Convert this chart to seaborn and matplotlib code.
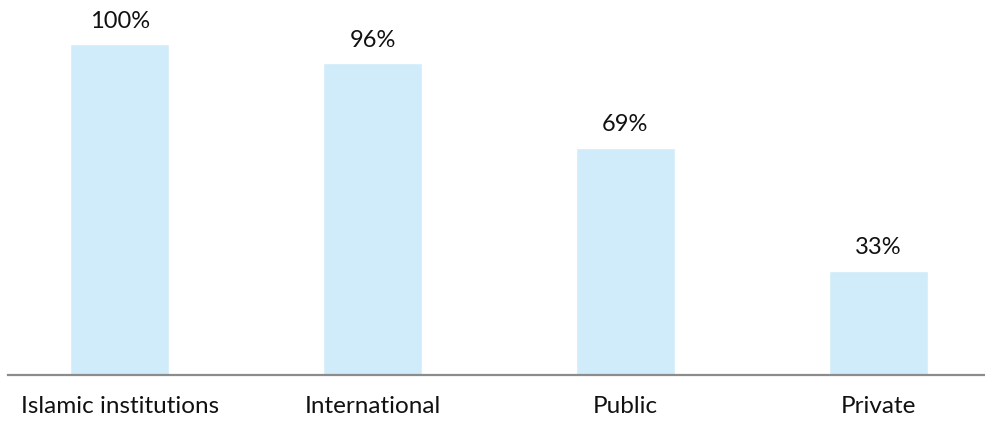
import matplotlib
matplotlib.use("Agg")
import matplotlib.pyplot as plt
import seaborn as sns
import pandas as pd

# Categories, bar heights as drawn, and the printed labels
categories = ["Islamic institutions", "International", "Public", "Private"]
values = [100, 94.3, 68.8, 31.5]
value_labels = ["100%", "96%", "69%", "33%"]

df = pd.DataFrame({"category": categories, "value": values})

sns.set_style("white")
plt.rcParams["font.family"] = ["Lato", "DejaVu Sans"]

fig = plt.figure(figsize=(9.85, 4.21), dpi=100)
ax = fig.add_axes([8 / 985, 1 - 375 / 421, 977 / 985, 375 / 421])

sns.barplot(data=df, x="category", y="value", color="#d0ecfa", saturation=1,
            width=0.392, ax=ax)

ax.bar_label(ax.containers[0], labels=value_labels, padding=9,
             fontsize=17, color="#111111")

ax.set_xlim(-0.443, 3.423)
ax.set_ylim(0, 113.46)
ax.set_xlabel("")
ax.set_ylabel("")
ax.set_yticks([])
ax.tick_params(axis="x", length=0, pad=15, labelsize=17.5, labelcolor="#111111")

for side in ["top", "left", "right"]:
    ax.spines[side].set_visible(False)
ax.spines["bottom"].set_color("#8c8c8c")
ax.spines["bottom"].set_linewidth(1.6)

fig.savefig("out.png", dpi=100)
